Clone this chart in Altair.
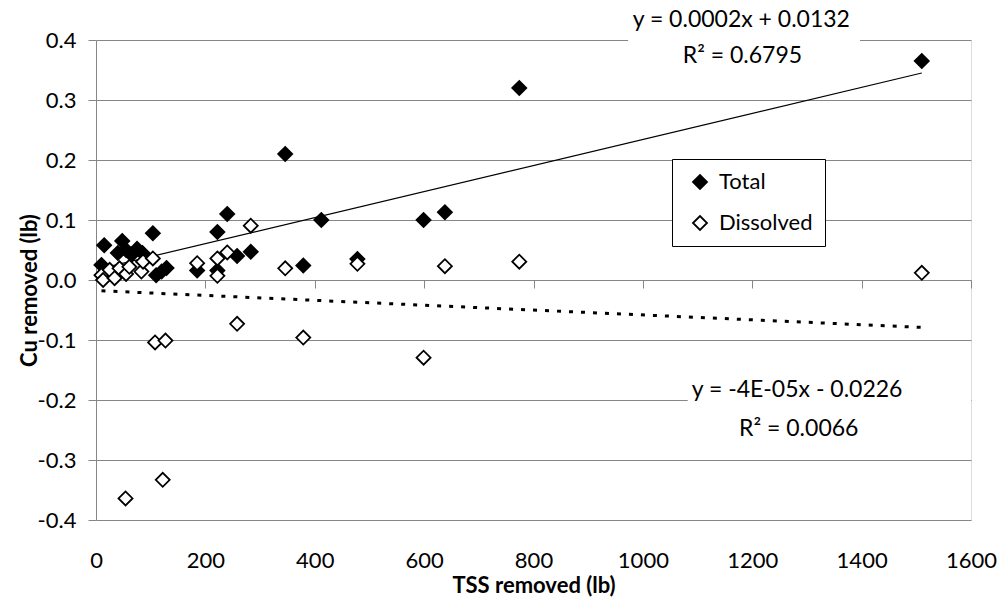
import altair as alt
import pandas as pd

# ---- data ----
total_x = [10, 15, 40, 48, 55, 65, 75, 85, 104, 110, 120, 129, 185, 222, 222, 240, 258, 283, 346, 379, 412, 478, 599, 638, 774, 1510]
total_y = [0.025, 0.058, 0.045, 0.065, 0.050, 0.042, 0.052, 0.045, 0.078, 0.008, 0.014, 0.020, 0.016, 0.080, 0.016, 0.110, 0.040, 0.047, 0.210, 0.024, 0.100, 0.035, 0.100, 0.113, 0.320, 0.365]

diss_x = [10, 13, 25, 34, 43, 55, 61, 83, 86, 104, 108, 127, 54, 122, 185, 222, 222, 240, 258, 283, 346, 379, 478, 599, 638, 774, 1510]
diss_y = [0.008, 0.000, 0.017, 0.003, 0.0195, 0.010, 0.022, 0.014, 0.0305, 0.036, -0.104, -0.101, -0.364, -0.333, 0.028, 0.036, 0.007, 0.046, -0.073, 0.0905, 0.0195, -0.096, 0.027, -0.1295, 0.023, 0.0305, 0.012]

total_fit_x = [8, 1510]
total_fit_y = [0.019, 0.345]
diss_fit_x = [10, 1510]
diss_fit_y = [-0.018, -0.079]

series_names = ["Total", "Dissolved"]
x_ticks = [0, 200, 400, 600, 800, 1000, 1200, 1400, 1600]
y_ticks = [-0.4, -0.3, -0.2, -0.1, 0.0, 0.1, 0.2, 0.3, 0.4]

eq_text = ["y = 0.0002x + 0.0132", "R\u00b2 = 0.6795", "y = -4E-05x - 0.0226", "R\u00b2 = 0.0066"]
eq_x = [1180, 1182, 1282, 1285]
eq_y = [0.433, 0.373, -0.183, -0.248]

# white label backgrounds that break the gridlines
box_x = [973, 1082]
box_x2 = [1397, 1600]
box_y = [0.46, -0.175]
box_y2 = [0.37, -0.225]

FONT = "Lato"

pts = pd.DataFrame({
    "x": total_x + diss_x,
    "y": total_y + diss_y,
    "series": ["Total"] * len(total_x) + ["Dissolved"] * len(diss_x),
})
fit_t = pd.DataFrame({"x": total_fit_x, "y": total_fit_y})
fit_d = pd.DataFrame({"x": diss_fit_x, "y": diss_fit_y})
eqs = pd.DataFrame({"t": eq_text, "x": eq_x, "y": eq_y})
boxes = pd.DataFrame({"x": box_x, "x2": box_x2, "y": box_y, "y2": box_y2})

xscale = alt.Scale(domain=[0, 1600], nice=False)
yscale = alt.Scale(domain=[-0.4, 0.4], nice=False)

x_axis = alt.Axis(
    values=x_ticks, format="d", grid=False, offset=-240, labelFlush=False,
    domainColor="#868686", tickColor="#868686", tickSize=8,
    labelPadding=262, labelFont=FONT, labelFontSize=22, labelColor="black",
    title="TSS removed (lb)", titleFont=FONT, titleFontSize=22, titleFontWeight="bold",
    titleColor="black", titleX=437.5, titleY=305, titleBaseline="middle",
)
y_axis = alt.Axis(
    values=y_ticks, grid=True, gridColor="#868686", labelFlush=False,
    labelExpr="(datum.value < -0.0001 ? '-' : '') + format(abs(datum.value), '.1f')",
    domainColor="#868686", tickColor="#868686", tickSize=8,
    labelPadding=12, labelFont=FONT, labelFontSize=22, labelColor="black",
    title="Cu removed (lb)", titleFont=FONT, titleFontSize=22, titleFontWeight="bold",
    titleColor="black", titleX=-67, titleY=250, titleAngle=270, titleBaseline="middle",
    titleAlign="center",
)

rect = alt.Chart(boxes).mark_rect(color="white", clip=False).encode(
    x=alt.X("x:Q", scale=xscale, axis=x_axis),
    x2="x2:Q",
    y=alt.Y("y:Q", scale=yscale, axis=y_axis),
    y2="y2:Q",
)

line_t = alt.Chart(fit_t).mark_line(color="black", strokeWidth=1.2).encode(
    x=alt.X("x:Q", scale=xscale), y=alt.Y("y:Q", scale=yscale)
)
line_d = alt.Chart(fit_d).mark_line(color="black", strokeWidth=3, strokeDash=[4, 8], strokeCap="butt").encode(
    x=alt.X("x:Q", scale=xscale), y=alt.Y("y:Q", scale=yscale)
)

points = alt.Chart(pts).mark_point(
    shape="diamond", filled=True, size=196, stroke="black", strokeWidth=1.8, opacity=1
).encode(
    x=alt.X("x:Q", scale=xscale),
    y=alt.Y("y:Q", scale=yscale),
    fill=alt.Fill(
        "series:N",
        scale=alt.Scale(domain=series_names, range=["black", "white"]),
        legend=alt.Legend(
            title=None, orient="none", legendX=576, legendY=119,
            strokeColor="black", fillColor="white", padding=12,
            symbolType="diamond", symbolSize=196, symbolStrokeColor="black",
            symbolStrokeWidth=1.8, symbolOffset=5, labelFont=FONT, labelFontSize=22,
            labelColor="black", labelOffset=8, rowPadding=19,
        ),
    ),
)

texts = alt.Chart(eqs).mark_text(font=FONT, fontSize=23, color="black", clip=False).encode(
    x=alt.X("x:Q", scale=xscale), y=alt.Y("y:Q", scale=yscale), text="t:N"
)

chart = alt.layer(rect, line_t, line_d, points, texts).properties(
    width=875, height=480,
    padding={"left": 96, "top": 40, "right": 30, "bottom": 78},
    autosize=alt.AutoSizeParams(type="none"),
).configure_view(stroke=None).configure(background="white")

chart.save("out.html", embed_options={"renderer": "svg", "actions": False})
